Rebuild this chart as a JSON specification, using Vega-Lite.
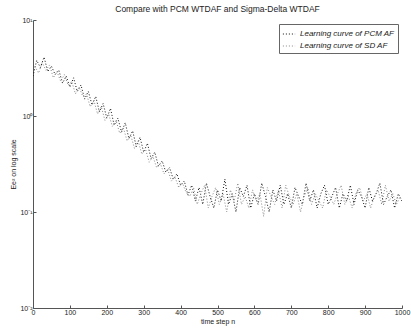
{
  "$schema": "https://vega.github.io/schema/vega-lite/v6.json",
  "width": 369,
  "height": 288,
  "autosize": {"type": "none"},
  "padding": {"left": 33, "top": 20, "right": 9, "bottom": 23},
  "background": "white",
  "title": {"text": "Compare with PCM WTDAF and Sigma-Delta WTDAF", "fontSize": 8.5, "font": "Liberation Sans", "fontWeight": "normal", "offset": 3, "color": "#222"},
  "config": {"view": {"stroke": null}, "font": "Liberation Sans"},
  "data": {"values": [
    {"n":0,"e":2.6,"s":"Learning curve of PCM AF"},{"n":10,"e":3.8,"s":"Learning curve of PCM AF"},{"n":20,"e":3.2,"s":"Learning curve of PCM AF"},{"n":30,"e":4.1,"s":"Learning curve of PCM AF"},{"n":40,"e":2.9,"s":"Learning curve of PCM AF"},{"n":50,"e":3.3,"s":"Learning curve of PCM AF"},{"n":60,"e":2.7,"s":"Learning curve of PCM AF"},{"n":70,"e":3.0,"s":"Learning curve of PCM AF"},{"n":80,"e":2.2,"s":"Learning curve of PCM AF"},{"n":90,"e":2.6,"s":"Learning curve of PCM AF"},
    {"n":100,"e":2.0,"s":"Learning curve of PCM AF"},{"n":110,"e":2.5,"s":"Learning curve of PCM AF"},{"n":120,"e":1.8,"s":"Learning curve of PCM AF"},{"n":130,"e":2.1,"s":"Learning curve of PCM AF"},{"n":140,"e":1.5,"s":"Learning curve of PCM AF"},{"n":150,"e":1.8,"s":"Learning curve of PCM AF"},{"n":160,"e":1.3,"s":"Learning curve of PCM AF"},{"n":170,"e":1.6,"s":"Learning curve of PCM AF"},{"n":180,"e":1.1,"s":"Learning curve of PCM AF"},{"n":190,"e":1.35,"s":"Learning curve of PCM AF"},
    {"n":200,"e":0.95,"s":"Learning curve of PCM AF"},{"n":210,"e":1.2,"s":"Learning curve of PCM AF"},{"n":220,"e":0.8,"s":"Learning curve of PCM AF"},{"n":230,"e":0.95,"s":"Learning curve of PCM AF"},{"n":240,"e":0.68,"s":"Learning curve of PCM AF"},{"n":250,"e":0.85,"s":"Learning curve of PCM AF"},{"n":260,"e":0.58,"s":"Learning curve of PCM AF"},{"n":270,"e":0.7,"s":"Learning curve of PCM AF"},{"n":280,"e":0.48,"s":"Learning curve of PCM AF"},{"n":290,"e":0.6,"s":"Learning curve of PCM AF"},
    {"n":300,"e":0.42,"s":"Learning curve of PCM AF"},{"n":310,"e":0.52,"s":"Learning curve of PCM AF"},{"n":320,"e":0.36,"s":"Learning curve of PCM AF"},{"n":330,"e":0.42,"s":"Learning curve of PCM AF"},{"n":340,"e":0.3,"s":"Learning curve of PCM AF"},{"n":350,"e":0.34,"s":"Learning curve of PCM AF"},{"n":360,"e":0.26,"s":"Learning curve of PCM AF"},{"n":370,"e":0.29,"s":"Learning curve of PCM AF"},{"n":380,"e":0.22,"s":"Learning curve of PCM AF"},{"n":390,"e":0.25,"s":"Learning curve of PCM AF"},
    {"n":400,"e":0.19,"s":"Learning curve of PCM AF"},{"n":410,"e":0.21,"s":"Learning curve of PCM AF"},{"n":420,"e":0.15,"s":"Learning curve of PCM AF"},{"n":430,"e":0.19,"s":"Learning curve of PCM AF"},{"n":440,"e":0.13,"s":"Learning curve of PCM AF"},{"n":450,"e":0.18,"s":"Learning curve of PCM AF"},{"n":460,"e":0.12,"s":"Learning curve of PCM AF"},{"n":470,"e":0.2,"s":"Learning curve of PCM AF"},{"n":480,"e":0.145,"s":"Learning curve of PCM AF"},{"n":490,"e":0.11,"s":"Learning curve of PCM AF"},
    {"n":500,"e":0.17,"s":"Learning curve of PCM AF"},{"n":510,"e":0.13,"s":"Learning curve of PCM AF"},{"n":520,"e":0.22,"s":"Learning curve of PCM AF"},{"n":530,"e":0.12,"s":"Learning curve of PCM AF"},{"n":540,"e":0.155,"s":"Learning curve of PCM AF"},{"n":550,"e":0.1,"s":"Learning curve of PCM AF"},{"n":560,"e":0.18,"s":"Learning curve of PCM AF"},{"n":570,"e":0.145,"s":"Learning curve of PCM AF"},{"n":580,"e":0.19,"s":"Learning curve of PCM AF"},{"n":590,"e":0.11,"s":"Learning curve of PCM AF"},
    {"n":600,"e":0.155,"s":"Learning curve of PCM AF"},{"n":610,"e":0.12,"s":"Learning curve of PCM AF"},{"n":620,"e":0.2,"s":"Learning curve of PCM AF"},{"n":630,"e":0.145,"s":"Learning curve of PCM AF"},{"n":640,"e":0.1,"s":"Learning curve of PCM AF"},{"n":650,"e":0.17,"s":"Learning curve of PCM AF"},{"n":660,"e":0.13,"s":"Learning curve of PCM AF"},{"n":670,"e":0.19,"s":"Learning curve of PCM AF"},{"n":680,"e":0.12,"s":"Learning curve of PCM AF"},{"n":690,"e":0.155,"s":"Learning curve of PCM AF"},
    {"n":700,"e":0.11,"s":"Learning curve of PCM AF"},{"n":710,"e":0.18,"s":"Learning curve of PCM AF"},{"n":720,"e":0.145,"s":"Learning curve of PCM AF"},{"n":730,"e":0.12,"s":"Learning curve of PCM AF"},{"n":740,"e":0.2,"s":"Learning curve of PCM AF"},{"n":750,"e":0.13,"s":"Learning curve of PCM AF"},{"n":760,"e":0.17,"s":"Learning curve of PCM AF"},{"n":770,"e":0.11,"s":"Learning curve of PCM AF"},{"n":780,"e":0.155,"s":"Learning curve of PCM AF"},{"n":790,"e":0.19,"s":"Learning curve of PCM AF"},
    {"n":800,"e":0.12,"s":"Learning curve of PCM AF"},{"n":810,"e":0.145,"s":"Learning curve of PCM AF"},{"n":820,"e":0.18,"s":"Learning curve of PCM AF"},{"n":830,"e":0.11,"s":"Learning curve of PCM AF"},{"n":840,"e":0.155,"s":"Learning curve of PCM AF"},{"n":850,"e":0.13,"s":"Learning curve of PCM AF"},{"n":860,"e":0.19,"s":"Learning curve of PCM AF"},{"n":870,"e":0.12,"s":"Learning curve of PCM AF"},{"n":880,"e":0.17,"s":"Learning curve of PCM AF"},{"n":890,"e":0.145,"s":"Learning curve of PCM AF"},
    {"n":900,"e":0.11,"s":"Learning curve of PCM AF"},{"n":910,"e":0.18,"s":"Learning curve of PCM AF"},{"n":920,"e":0.13,"s":"Learning curve of PCM AF"},{"n":930,"e":0.155,"s":"Learning curve of PCM AF"},{"n":940,"e":0.2,"s":"Learning curve of PCM AF"},{"n":950,"e":0.12,"s":"Learning curve of PCM AF"},{"n":960,"e":0.145,"s":"Learning curve of PCM AF"},{"n":970,"e":0.17,"s":"Learning curve of PCM AF"},{"n":980,"e":0.11,"s":"Learning curve of PCM AF"},{"n":990,"e":0.155,"s":"Learning curve of PCM AF"},{"n":1000,"e":0.13,"s":"Learning curve of PCM AF"},
    {"n":5,"e":3.3,"s":"Learning curve of SD AF"},{"n":15,"e":2.8,"s":"Learning curve of SD AF"},{"n":25,"e":3.6,"s":"Learning curve of SD AF"},{"n":35,"e":3.0,"s":"Learning curve of SD AF"},{"n":45,"e":3.4,"s":"Learning curve of SD AF"},{"n":55,"e":2.5,"s":"Learning curve of SD AF"},{"n":65,"e":2.9,"s":"Learning curve of SD AF"},{"n":75,"e":2.3,"s":"Learning curve of SD AF"},{"n":85,"e":2.7,"s":"Learning curve of SD AF"},{"n":95,"e":2.1,"s":"Learning curve of SD AF"},
    {"n":105,"e":2.3,"s":"Learning curve of SD AF"},{"n":115,"e":1.7,"s":"Learning curve of SD AF"},{"n":125,"e":2.0,"s":"Learning curve of SD AF"},{"n":135,"e":1.6,"s":"Learning curve of SD AF"},{"n":145,"e":1.7,"s":"Learning curve of SD AF"},{"n":155,"e":1.25,"s":"Learning curve of SD AF"},{"n":165,"e":1.45,"s":"Learning curve of SD AF"},{"n":175,"e":1.05,"s":"Learning curve of SD AF"},{"n":185,"e":1.25,"s":"Learning curve of SD AF"},{"n":195,"e":0.9,"s":"Learning curve of SD AF"},
    {"n":205,"e":1.05,"s":"Learning curve of SD AF"},{"n":215,"e":0.78,"s":"Learning curve of SD AF"},{"n":225,"e":0.9,"s":"Learning curve of SD AF"},{"n":235,"e":0.66,"s":"Learning curve of SD AF"},{"n":245,"e":0.75,"s":"Learning curve of SD AF"},{"n":255,"e":0.55,"s":"Learning curve of SD AF"},{"n":265,"e":0.63,"s":"Learning curve of SD AF"},{"n":275,"e":0.46,"s":"Learning curve of SD AF"},{"n":285,"e":0.55,"s":"Learning curve of SD AF"},{"n":295,"e":0.4,"s":"Learning curve of SD AF"},
    {"n":305,"e":0.45,"s":"Learning curve of SD AF"},{"n":315,"e":0.33,"s":"Learning curve of SD AF"},{"n":325,"e":0.38,"s":"Learning curve of SD AF"},{"n":335,"e":0.29,"s":"Learning curve of SD AF"},{"n":345,"e":0.32,"s":"Learning curve of SD AF"},{"n":355,"e":0.25,"s":"Learning curve of SD AF"},{"n":365,"e":0.28,"s":"Learning curve of SD AF"},{"n":375,"e":0.21,"s":"Learning curve of SD AF"},{"n":385,"e":0.23,"s":"Learning curve of SD AF"},{"n":395,"e":0.18,"s":"Learning curve of SD AF"},
    {"n":405,"e":0.2,"s":"Learning curve of SD AF"},{"n":415,"e":0.16,"s":"Learning curve of SD AF"},{"n":425,"e":0.145,"s":"Learning curve of SD AF"},{"n":435,"e":0.18,"s":"Learning curve of SD AF"},{"n":445,"e":0.12,"s":"Learning curve of SD AF"},{"n":455,"e":0.155,"s":"Learning curve of SD AF"},{"n":465,"e":0.19,"s":"Learning curve of SD AF"},{"n":475,"e":0.11,"s":"Learning curve of SD AF"},{"n":485,"e":0.145,"s":"Learning curve of SD AF"},{"n":495,"e":0.18,"s":"Learning curve of SD AF"},
    {"n":505,"e":0.12,"s":"Learning curve of SD AF"},{"n":515,"e":0.155,"s":"Learning curve of SD AF"},{"n":525,"e":0.1,"s":"Learning curve of SD AF"},{"n":535,"e":0.17,"s":"Learning curve of SD AF"},{"n":545,"e":0.13,"s":"Learning curve of SD AF"},{"n":555,"e":0.2,"s":"Learning curve of SD AF"},{"n":565,"e":0.12,"s":"Learning curve of SD AF"},{"n":575,"e":0.145,"s":"Learning curve of SD AF"},{"n":585,"e":0.11,"s":"Learning curve of SD AF"},{"n":595,"e":0.17,"s":"Learning curve of SD AF"},
    {"n":605,"e":0.13,"s":"Learning curve of SD AF"},{"n":615,"e":0.155,"s":"Learning curve of SD AF"},{"n":625,"e":0.09,"s":"Learning curve of SD AF"},{"n":635,"e":0.18,"s":"Learning curve of SD AF"},{"n":645,"e":0.145,"s":"Learning curve of SD AF"},{"n":655,"e":0.12,"s":"Learning curve of SD AF"},{"n":665,"e":0.17,"s":"Learning curve of SD AF"},{"n":675,"e":0.11,"s":"Learning curve of SD AF"},{"n":685,"e":0.19,"s":"Learning curve of SD AF"},{"n":695,"e":0.145,"s":"Learning curve of SD AF"},
    {"n":705,"e":0.12,"s":"Learning curve of SD AF"},{"n":715,"e":0.155,"s":"Learning curve of SD AF"},{"n":725,"e":0.1,"s":"Learning curve of SD AF"},{"n":735,"e":0.145,"s":"Learning curve of SD AF"},{"n":745,"e":0.18,"s":"Learning curve of SD AF"},{"n":755,"e":0.12,"s":"Learning curve of SD AF"},{"n":765,"e":0.155,"s":"Learning curve of SD AF"},{"n":775,"e":0.13,"s":"Learning curve of SD AF"},{"n":785,"e":0.11,"s":"Learning curve of SD AF"},{"n":795,"e":0.17,"s":"Learning curve of SD AF"},
    {"n":805,"e":0.145,"s":"Learning curve of SD AF"},{"n":815,"e":0.12,"s":"Learning curve of SD AF"},{"n":825,"e":0.155,"s":"Learning curve of SD AF"},{"n":835,"e":0.19,"s":"Learning curve of SD AF"},{"n":845,"e":0.12,"s":"Learning curve of SD AF"},{"n":855,"e":0.145,"s":"Learning curve of SD AF"},{"n":865,"e":0.11,"s":"Learning curve of SD AF"},{"n":875,"e":0.155,"s":"Learning curve of SD AF"},{"n":885,"e":0.18,"s":"Learning curve of SD AF"},{"n":895,"e":0.13,"s":"Learning curve of SD AF"},
    {"n":905,"e":0.155,"s":"Learning curve of SD AF"},{"n":915,"e":0.11,"s":"Learning curve of SD AF"},{"n":925,"e":0.145,"s":"Learning curve of SD AF"},{"n":935,"e":0.17,"s":"Learning curve of SD AF"},{"n":945,"e":0.12,"s":"Learning curve of SD AF"},{"n":955,"e":0.19,"s":"Learning curve of SD AF"},{"n":965,"e":0.13,"s":"Learning curve of SD AF"},{"n":975,"e":0.155,"s":"Learning curve of SD AF"},{"n":985,"e":0.12,"s":"Learning curve of SD AF"},{"n":995,"e":0.145,"s":"Learning curve of SD AF"}
  ]},
  "mark": {"type": "line", "strokeDash": [1, 2], "strokeWidth": 1, "clip": true},
  "encoding": {
    "x": {"field": "n", "type": "quantitative",
      "scale": {"domain": [0, 1000], "nice": false},
      "axis": {"values": [0,100,200,300,400,500,600,700,800,900,1000], "format": "d", "title": "time step n", "titleFontSize": 7, "titleFontWeight": "normal", "titlePadding": 2, "labelFontSize": 7, "tickSize": -3, "labelPadding": 3, "grid": false, "domainColor": "#555", "tickColor": "#555", "labelColor": "#222", "titleColor": "#222", "labelFlush": false}},
    "y": {"field": "e", "type": "quantitative",
      "scale": {"type": "log", "domain": [0.01, 10], "nice": false},
      "axis": {"values": [0.01, 0.1, 1, 10], "labelExpr": "datum.value >= 10 ? '10¹' : datum.value >= 1 ? '10⁰' : datum.value >= 0.1 ? '10⁻¹' : '10⁻²'", "title": "Ee² on log scale", "titleFontSize": 7, "titleFontWeight": "normal", "titlePadding": 3, "labelFontSize": 7, "tickSize": -3, "labelPadding": 4, "grid": false, "domainColor": "#555", "tickColor": "#555", "labelColor": "#222", "titleColor": "#222", "labelFlush": false}},
    "color": {"field": "s", "type": "nominal",
      "scale": {"domain": ["Learning curve of PCM AF", "Learning curve of SD AF"], "range": ["#111111", "#888888"]},
      "legend": {"title": null, "orient": "top-right", "offset": 4, "labelFontSize": 8, "labelColor": "#222", "symbolType": "stroke", "symbolStrokeWidth": 1, "symbolDash": [1, 2], "symbolSize": 150, "fillColor": "white", "strokeColor": "#666", "padding": 3, "rowPadding": 1, "labelFontStyle": "italic"}}
  }
}
